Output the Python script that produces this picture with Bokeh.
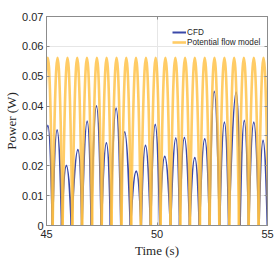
from bokeh.plotting import figure
from bokeh.models import (Range1d, FixedTicker, LinearAxis, Legend, LegendItem,
                          ColumnDataSource)
from bokeh.embed import file_html
from bokeh.resources import INLINE

# ---------------- data ----------------
time_ticks = [45, 50, 55]
time_tick_labels = ["45", "50", "55"]
power_ticks = [0.0, 0.01, 0.02, 0.03, 0.04, 0.05, 0.06, 0.07]
power_tick_labels = ["0", "0.01", "0.02", "0.03", "0.04", "0.05", "0.06", "0.07"]

series_names = ["CFD", "Potential flow model"]

# CFD: zero crossings (troughs) and peaks of each power pulse
cfd_trough_t = [44.83, 45.27, 45.69, 46.13, 46.60, 47.03, 47.48, 47.90, 48.37,
                48.80, 49.28, 49.71, 50.13, 50.61, 51.03, 51.48, 51.92, 52.38,
                52.83, 53.25, 53.75, 54.15, 54.61, 55.00]
cfd_peak_t = [45.06, 45.48, 45.90, 46.42, 46.84, 47.26, 47.71, 48.15, 48.54,
              49.06, 49.48, 49.92, 50.35, 50.85, 51.24, 51.71, 52.16, 52.59,
              53.05, 53.58, 53.95, 54.38, 54.80]
cfd_peak_p = [0.0335, 0.0320, 0.0201, 0.0254, 0.0349, 0.0400, 0.0276, 0.0393,
              0.0313, 0.0182, 0.0268, 0.0338, 0.0231, 0.0292, 0.0294, 0.0227,
              0.0290, 0.0449, 0.0346, 0.0446, 0.0352, 0.0346, 0.0285]

# Potential flow model: troughs and peaks
pf_trough_t = [44.84, 45.28, 45.73, 46.17, 46.61, 47.06, 47.50, 47.94, 48.39,
               48.83, 49.27, 49.72, 50.16, 50.61, 51.05, 51.49, 51.94, 52.38,
               52.82, 53.27, 53.71, 54.15, 54.60, 55.04]
pf_peak_t = [45.06, 45.50, 45.95, 46.39, 46.83, 47.28, 47.72, 48.17, 48.61,
             49.05, 49.50, 49.94, 50.38, 50.83, 51.27, 51.71, 52.16, 52.60,
             53.05, 53.49, 53.93, 54.38, 54.82]
pf_peak_p = [0.0562, 0.0562, 0.0562, 0.0562, 0.0562, 0.0562, 0.0562, 0.0562,
             0.0562, 0.0562, 0.0562, 0.0562, 0.0562, 0.0562, 0.0562, 0.0562,
             0.0562, 0.0562, 0.0562, 0.0562, 0.0562, 0.0562, 0.0562]


def pulse_source(trough_t, peak_t, peak_p):
    x0 = trough_t[:-1]
    x1 = trough_t[1:]
    cx = [2 * tp - (a + b) / 2 for a, b, tp in zip(x0, x1, peak_t)]
    cy = [2 * v for v in peak_p]
    zeros = [0.0 for _ in peak_p]
    return ColumnDataSource(dict(x0=x0, y0=zeros, x1=x1, y1=zeros, cx=cx, cy=cy))


BLUE = "#3a48a8"
ORANGE = "#ffbf40"
AXIS = "#8c8c8c"
TXT = "#262626"

p = figure(width=276, height=270, output_backend="svg", toolbar_location=None,
           x_range=Range1d(45, 55), y_range=Range1d(0, 0.07),
           min_border_left=46, min_border_right=9, min_border_top=16,
           min_border_bottom=45)
p.background_fill_color = "white"
p.outline_line_color = AXIS
p.outline_line_width = 1

cfd_r = p.quadratic(x0="x0", y0="y0", x1="x1", y1="y1", cx="cx", cy="cy",
                    source=pulse_source(cfd_trough_t, cfd_peak_t, cfd_peak_p),
                    line_color=BLUE, line_width=2)
pf_r = p.quadratic(x0="x0", y0="y0", x1="x1", y1="y1", cx="cx", cy="cy",
                   source=pulse_source(pf_trough_t, pf_peak_t, pf_peak_p),
                   line_color=ORANGE, line_width=2.6, line_alpha=0.8)

# axes
xticker = FixedTicker(ticks=time_ticks)
yticker = FixedTicker(ticks=power_ticks)
for ax in p.xaxis:
    ax.ticker = xticker
    ax.major_label_overrides = {t: s for t, s in zip(time_ticks, time_tick_labels)}
for ax in p.yaxis:
    ax.ticker = yticker
    ax.major_label_overrides = {t: s for t, s in zip(power_ticks, power_tick_labels)}

p.xaxis.axis_label = "Time (s)"
p.yaxis.axis_label = "Power (W)"
for ax in (p.xaxis[0], p.yaxis[0]):
    ax.axis_line_color = AXIS
    ax.major_tick_line_color = AXIS
    ax.major_tick_in = 3
    ax.major_tick_out = 0
    ax.minor_tick_line_color = None
    ax.major_label_text_font = "Liberation Sans"
    ax.major_label_text_font_size = "11px"
    ax.major_label_text_color = TXT
    ax.axis_label_text_font = "Liberation Serif"
    ax.axis_label_text_font_size = "13px"
    ax.axis_label_text_font_style = "normal"
    ax.axis_label_text_color = TXT
p.xaxis.major_label_standoff = 4
p.xaxis.axis_label_standoff = 2
p.yaxis.major_label_standoff = 3
p.yaxis.axis_label_standoff = 0

# box-style ticks on the right and top (no labels)
for loc, tk in (("right", yticker), ("above", xticker)):
    ax = LinearAxis(ticker=tk)
    ax.axis_line_color = AXIS
    ax.major_tick_line_color = AXIS
    ax.major_tick_in = 3
    ax.major_tick_out = 0
    ax.minor_tick_line_color = None
    ax.major_label_text_font_size = "0px"
    ax.major_label_standoff = 0
    p.add_layout(ax, loc)

p.xgrid.ticker = xticker
p.ygrid.ticker = yticker
p.xgrid.grid_line_color = "#e6e6e6"
p.ygrid.grid_line_color = "#e6e6e6"

legend = Legend(items=[LegendItem(label=series_names[0], renderers=[cfd_r], index=0),
                       LegendItem(label=series_names[1], renderers=[pf_r], index=0)],
                location=(124, 176))
legend.background_fill_alpha = 0
legend.border_line_alpha = 0
legend.label_text_font = "Liberation Sans"
legend.label_text_font_size = "8.2px"
legend.label_text_color = TXT
legend.glyph_width = 14
legend.glyph_height = 10
legend.label_height = 10
legend.label_standoff = 1
legend.spacing = 0
legend.padding = 2
legend.margin = 0
p.add_layout(legend)

open("out.html", "w").write(file_html(p, INLINE))
